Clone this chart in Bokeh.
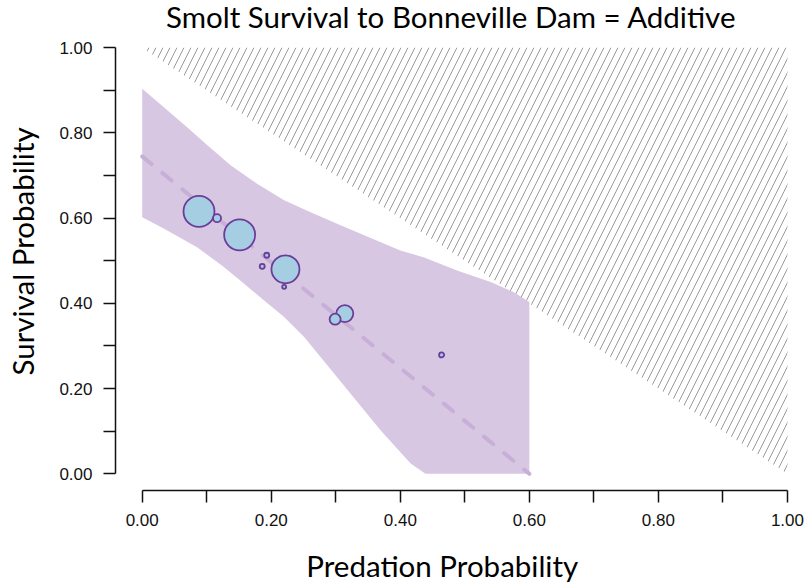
import math
from bokeh.plotting import figure
from bokeh.models import Range1d, FixedTicker, PrintfTickFormatter, Label
from bokeh.embed import file_html
from bokeh.resources import INLINE

# ---------------- data ----------------
title_text = "Smolt Survival to Bonneville Dam = Additive"
x_label_text = "Predation Probability"
y_label_text = "Survival Probability"

# observed groups (bubbles)
pred_prob = [0.088, 0.116, 0.151, 0.193, 0.186, 0.222, 0.220, 0.314, 0.299, 0.464]
surv_prob = [0.616, 0.600, 0.561, 0.513, 0.487, 0.480, 0.439, 0.376, 0.363, 0.279]
n_tagged = [960, 64, 960, 25, 25, 784, 16, 289, 121, 25]

# credible band: upper edge (left->right), lower edge (right->left)
band_upper_x = [0.000, 0.034, 0.070, 0.101, 0.137, 0.178, 0.220, 0.261, 0.302, 0.400, 0.437, 0.488, 0.540, 0.576, 0.600]
band_upper_y = [0.904, 0.860, 0.813, 0.771, 0.724, 0.681, 0.642, 0.614, 0.587, 0.524, 0.508, 0.477, 0.450, 0.426, 0.403]
band_lower_x = [0.600, 0.439, 0.416, 0.370, 0.251, 0.220, 0.189, 0.158, 0.127, 0.085, 0.034, 0.000]
band_lower_y = [0.000, 0.000, 0.024, 0.101, 0.321, 0.368, 0.407, 0.446, 0.485, 0.532, 0.575, 0.602]

# additive model mean line
trend_x = [0.0, 0.6]
trend_y = [0.745, 0.0]

# infeasible region (survival + predation > 1)
infeasible_x = [0.0, 1.0, 1.0]
infeasible_y = [1.0, 1.0, 0.0]

major_ticks = [0.0, 0.2, 0.4, 0.6, 0.8, 1.0]
minor_ticks = [0.1, 0.3, 0.5, 0.7, 0.9]

# ---------------- figure ----------------
# the frame covers the whole canvas; axes are drawn at fixed, detached positions
p = figure(width=808, height=583, title=None,
           x_range=Range1d(-0.2196, 1.0326), y_range=Range1d(-0.2575, 1.1110),
           output_backend="svg", toolbar_location=None,
           min_border_left=0, min_border_right=0,
           min_border_top=0, min_border_bottom=0)
p.outline_line_color = None
p.grid.visible = False
p.background_fill_color = "white"
p.border_fill_color = "white"

p.patch(infeasible_x, infeasible_y, fill_color=None, line_color=None,
        hatch_pattern="/", hatch_color="#9a9a9a", hatch_scale=14, hatch_weight=1)

p.patch(band_upper_x + band_lower_x, band_upper_y + band_lower_y,
        fill_color="#D8C7E2", line_color=None)

p.line(trend_x, trend_y, line_color="#C8AFD7", line_width=4,
       line_dash="12 14", line_cap="round")

sizes = [math.sqrt(n) for n in n_tagged]
p.scatter(pred_prob, surv_prob, size=sizes, marker="circle",
          fill_color="#A6CEE3", line_color="#6A3D9A", line_width=1.8)

p.xaxis[0].fixed_location = -0.0392
p.yaxis[0].fixed_location = -0.0414

for ax in (p.xaxis[0], p.yaxis[0]):
    ax.ticker = FixedTicker(ticks=major_ticks, minor_ticks=minor_ticks)
    ax.formatter = PrintfTickFormatter(format="%.2f")
    ax.bounds = (0, 1)
    ax.axis_line_color = "#111111"
    ax.axis_line_width = 1.5
    ax.major_tick_line_color = "#111111"
    ax.minor_tick_line_color = "#111111"
    ax.major_tick_line_width = 1.5
    ax.minor_tick_line_width = 1.5
    ax.major_tick_out = 12
    ax.major_tick_in = 0
    ax.minor_tick_out = 12
    ax.minor_tick_in = 0
    ax.major_label_text_font = "Liberation Sans"
    ax.major_label_text_font_size = "17px"
    ax.major_label_text_color = "#111111"
    ax.major_label_standoff = 11

p.add_layout(Label(x=0.479, y=1.0732, text=title_text, text_align="center",
                   text_baseline="alphabetic", text_font="Lato",
                   text_font_size="29.5px", text_color="#000000"))
p.add_layout(Label(x=0.465, y=-0.2162, text=x_label_text, text_align="center",
                   text_baseline="alphabetic", text_font="Lato",
                   text_font_size="29.5px", text_color="#000000"))
p.add_layout(Label(x=-0.1853, y=0.522, text=y_label_text, angle=math.pi / 2,
                   text_align="center", text_baseline="alphabetic",
                   text_font="Lato", text_font_size="29.5px", text_color="#000000"))

open("out.html", "w").write(file_html(p, INLINE))
